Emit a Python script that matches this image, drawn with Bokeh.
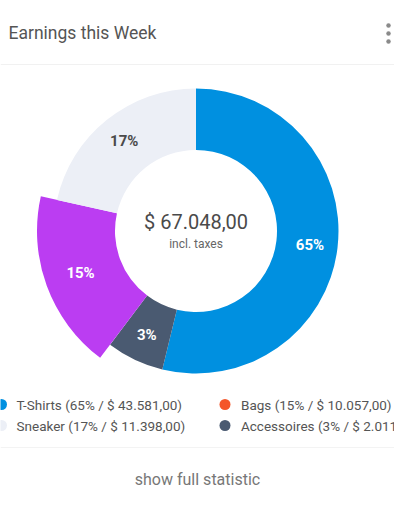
import math
from bokeh.plotting import figure
from bokeh.models import Range1d, ColumnDataSource
from bokeh.embed import file_html
from bokeh.resources import INLINE
from bokeh.core.properties import value

# ---------------- data ----------------
title = "Earnings this Week"
ring_categories = ["T-Shirts", "Accessoires", "Bags", "Sneaker"]
ring_share = [53.8, 6.5, 18.2, 21.5]          # share of the ring as drawn
ring_labels = ["65%", "3%", "15%", "17%"]
ring_colors = ["#0090E0", "#4A5A71", "#BB3DF2", "#ECEFF6"]
ring_label_colors = ["#FFFFFF", "#FFFFFF", "#FFFFFF", "#4A4A4A"]
highlighted = "Bags"

legend_categories = ["T-Shirts", "Bags", "Sneaker", "Accessoires"]
legend_pct = [65, 15, 17, 3]
legend_amount = ["43.581,00", "10.057,00", "11.398,00", "2.011,00"]
legend_colors = ["#0090E0", "#F4562A", "#ECEFF6", "#4A5A71"]

total_text = "$ 67.048,00"
total_sub = "incl. taxes"
footer_text = "show full statistic"

FONT = value("Roboto")

# ---------------- figure ----------------
W, H = 394, 512
p = figure(width=W, height=H, output_backend="svg", toolbar_location=None,
           x_range=Range1d(0, W), y_range=Range1d(0, H),
           x_axis_type=None, y_axis_type=None, min_border=0)
p.outline_line_color = None
p.grid.visible = False
p.background_fill_color = "#FFFFFF"
p.border_fill_color = "#FFFFFF"


def Y(y_ref):
    return 512 - y_ref


# header
p.text(x=[8], y=[Y(32)], text=[title], text_font=FONT, text_font_size="17.5px",
       text_color="#555555", text_align="left", text_baseline="middle")
p.scatter(x=[388, 388, 388], y=[Y(25), Y(33), Y(41)], size=4.5,
          fill_color="#8A8A8A", line_color=None)
p.line(x=[0, 394], y=[Y(64), Y(64)], line_color="#F1F1F1", line_width=1)

# donut
cx, cy = 195.5, Y(230.5)
r_in, r_out, r_hi = 81, 142.5, 159
total = sum(ring_share)
starts, ends, outers, lx, ly = [], [], [], [], []
acc = 0.0
for cat, s in zip(ring_categories, ring_share):
    t0 = acc / total * 360.0
    acc += s
    t1 = acc / total * 360.0
    starts.append(math.radians(90 - t0))
    ends.append(math.radians(90 - t1))
    ro = r_hi if cat == highlighted else r_out
    outers.append(ro)
    tm = math.radians((t0 + t1) / 2)
    rl = (r_in + ro) / 2 + 3
    lx.append(cx + rl * math.sin(tm))
    ly.append(cy + rl * math.cos(tm))

src = ColumnDataSource(dict(start=starts, end=ends, outer=outers,
                            color=ring_colors, lx=lx, ly=ly,
                            label=ring_labels, lcolor=ring_label_colors))
p.annular_wedge(x=cx, y=cy, inner_radius=r_in, outer_radius="outer",
                start_angle="start", end_angle="end", direction="clock",
                fill_color="color", line_color=None, source=src)
p.text(x="lx", y="ly", text="label", text_color="lcolor", source=src,
       text_font=FONT, text_font_size="15px", text_font_style="bold",
       text_align="center", text_baseline="middle")

# center text
p.text(x=[cx], y=[Y(221)], text=[total_text], text_font=FONT,
       text_font_size="20px", text_color="#4A4A4A",
       text_align="center", text_baseline="middle")
p.text(x=[cx], y=[Y(243)], text=[total_sub], text_font=FONT,
       text_font_size="12px", text_color="#666666",
       text_align="center", text_baseline="middle")

# legend
leg_dot_x = [1, 224.5, 1, 224.5]
leg_txt_x = [16, 240.5, 16, 240.5]
leg_y = [Y(404), Y(404), Y(425), Y(425)]
leg_text = [f"{c} ({pc}% / $ {a})" for c, pc, a in
            zip(legend_categories, legend_pct, legend_amount)]
lsrc = ColumnDataSource(dict(dx=leg_dot_x, tx=leg_txt_x, y=leg_y,
                             color=legend_colors, text=leg_text))
p.scatter(x="dx", y="y", size=11, fill_color="color", line_color=None,
          source=lsrc)
p.text(x="tx", y="y", text="text", source=lsrc, text_font=FONT,
       text_font_size="13.5px", text_color="#555555",
       text_align="left", text_baseline="middle")

# footer
p.line(x=[0, 394], y=[Y(447), Y(447)], line_color="#F3F3F3", line_width=1)
p.text(x=[197], y=[Y(479)], text=[footer_text], text_font=FONT,
       text_font_size="16px", text_color="#777777",
       text_align="center", text_baseline="middle")

open("out.html", "w").write(file_html(p, INLINE))
